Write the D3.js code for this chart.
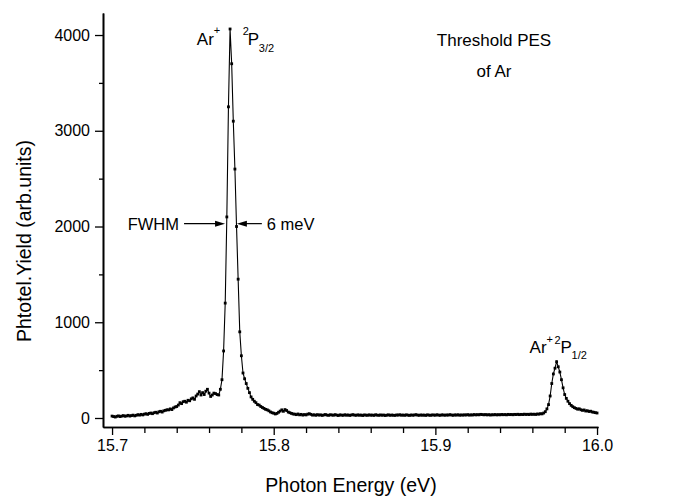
<!DOCTYPE html>
<html>
<head>
<meta charset="utf-8">
<script src="https://cdn.jsdelivr.net/npm/d3@7"></script>
<style>
  html, body { margin: 0; padding: 0; background: #fff; }
  svg { display: block; }
  text { font-family: "Liberation Sans", Arial, Helvetica, sans-serif; fill: #000; }
</style>
</head>
<body>
<svg id="chart" width="690" height="500"></svg>
<script>
// ---- data ----
const energyStart = 15.700;   // eV, first scan point
const energyStep = 0.001;     // eV, scan step
const photoelectronYield = [
  20,15,10,18,22,15,20,25,18,22,
  28,20,25,30,22,28,35,30,38,32,
  40,45,38,48,52,45,55,60,52,65,
  70,62,75,80,86,85,95,88,105,115,
  120,135,160,150,170,175,165,185,180,200,
  210,195,230,250,275,240,265,245,280,300,
  260,225,240,260,255,245,240,300,400,700,
  1200,2100,3250,4063,3700,3100,2600,2000,1450,900,
  650,470,410,360,310,265,220,195,175,160,
  140,135,120,110,100,90,85,75,63,55,
  50,42,48,60,72,85,70,88,78,62,
  55,48,42,40,35,42,33,38,30,36,
  32,40,45,38,30,34,28,35,30,33,
  27,32,36,30,28,34,31,29,35,30,
  26,33,30,28,34,29,32,27,31,35,
  30,28,33,29,31,26,32,30,28,33,
  29,31,27,34,30,28,32,29,31,26,
  30,33,28,31,29,27,32,30,34,29,
  31,28,33,30,27,32,29,31,35,30,
  28,32,29,31,27,33,30,28,32,31,
  29,34,30,28,33,31,29,32,30,35,
  31,28,33,30,34,29,32,30,33,31,
  35,30,33,31,36,32,35,33,38,36,
  33,36,32,35,31,34,33,36,32,35,
  33,37,34,36,33,38,35,37,34,38,
  36,39,35,38,36,40,37,39,36,41,
  38,40,37,42,40,45,43,52,66,95,
  140,230,360,460,520,588,535,480,400,315,
  245,205,175,150,132,118,108,100,92,96,
  86,80,84,73,76,68,71,63,60,56,52
];
const xMajorTicks = [15.7, 15.8, 15.9, 16.0];
const xMinorTicks = [15.72, 15.74, 15.76, 15.78, 15.82, 15.84, 15.86, 15.88, 15.92, 15.94, 15.96, 15.98];
const yMajorTicks = [0, 1000, 2000, 3000, 4000];
const yMinorTicks = [500, 1500, 2500, 3500];
const xTitle = "Photon Energy (eV)";
const yTitle = "Phtotel.Yield (arb.units)";
const titleLines = ["Threshold PES", "of Ar"];
const peak1 = { energy: 15.7735, value: 4063 };
const peak2 = { energy: 15.975, value: 588 };
const fwhm = { left: 15.7699, right: 15.7772, level: 2030, leftLabel: "FWHM", rightLabel: "6 meV" };

// ---- build points ----
const points = photoelectronYield.map((v, i) => ({ e: energyStart + i * energyStep, v }));

const svg = d3.select("#chart");
const x = d3.scaleLinear().domain([15.6944, 16.0006]).range([103, 598]);
const y = d3.scaleLinear().domain([-94, 4230]).range([427, 13]);

// axes
const xAxisMajor = d3.axisBottom(x).tickValues(xMajorTicks).tickFormat(d3.format(".1f")).tickSizeInner(8).tickSizeOuter(0).tickPadding(5);
const xAxisMinor = d3.axisBottom(x).tickValues(xMinorTicks).tickFormat("").tickSizeInner(6).tickSizeOuter(0);
const yAxisMajor = d3.axisLeft(y).tickValues(yMajorTicks).tickFormat(d3.format("d")).tickSizeInner(8).tickSizeOuter(0).tickPadding(5);
const yAxisMinor = d3.axisLeft(y).tickValues(yMinorTicks).tickFormat("").tickSizeInner(4).tickSizeOuter(0);

function styleAxis(g) {
  g.selectAll("path.domain").attr("stroke", "#000").attr("stroke-width", 1.6);
  g.selectAll(".tick line").attr("stroke", "#000").attr("stroke-width", 1.3);
  g.selectAll(".tick text").style("font-family", '"Liberation Sans", Arial, sans-serif').style("font-size", "16px").attr("fill", "#000");
}

svg.append("g").attr("transform", "translate(0,427)").call(xAxisMinor).call(styleAxis);
svg.append("g").attr("transform", "translate(0,427)").call(xAxisMajor).call(styleAxis);
svg.append("g").attr("transform", "translate(103,0)").call(yAxisMinor).call(styleAxis);
svg.append("g").attr("transform", "translate(103,0)").call(yAxisMajor).call(styleAxis);

// axis titles
svg.append("text").attr("x", 351).attr("y", 492).attr("text-anchor", "middle")
  .style("font-size", "19.5px").text(xTitle);
svg.append("text").attr("transform", "translate(31,241) rotate(-90)").attr("text-anchor", "middle")
  .style("font-size", "19.5px").text(yTitle);

// data line + markers
const line = d3.line().x(d => x(d.e)).y(d => y(d.v));
svg.append("path").datum(points).attr("d", line).attr("fill", "none").attr("stroke", "#000").attr("stroke-width", 1.1);
svg.append("g").selectAll("rect").data(points).join("rect")
  .attr("x", d => x(d.e) - 1.4).attr("y", d => y(d.v) - 1.4)
  .attr("width", 2.8).attr("height", 2.8).attr("fill", "#000");

// title block
titleLines.forEach((t, i) => {
  svg.append("text").attr("x", 494).attr("y", 46 + i * 31).attr("text-anchor", "middle")
    .style("font-size", "17px").text(t);
});

// peak labels
function label(px, py, parts) {
  parts.forEach(p => {
    svg.append("text").attr("x", px + p.dx).attr("y", py + p.dy).style("font-size", p.size + "px").text(p.t);
  });
}
const p1x = x(peak1.energy), p1y = y(peak1.value);
label(p1x, p1y, [
  { t: "Ar", dx: -34, dy: 16, size: 17 },
  { t: "+", dx: -17, dy: 5, size: 11 },
  { t: "2", dx: 12, dy: 6, size: 11 },
  { t: "P", dx: 17, dy: 16, size: 17 },
  { t: "3/2", dx: 28, dy: 23, size: 11 }
]);
const p2x = x(peak2.energy), p2y = y(peak2.value);
label(p2x, p2y, [
  { t: "Ar", dx: -27, dy: -9, size: 17 },
  { t: "+", dx: -10, dy: -19, size: 11 },
  { t: "2", dx: -2, dy: -18, size: 11 },
  { t: "P", dx: 4, dy: -9, size: 17 },
  { t: "1/2", dx: 15, dy: -3, size: 11 }
]);

// FWHM arrows
const fl = x(fwhm.left), fr = x(fwhm.right), fy = y(fwhm.level);
function arrow(x0, x1, yy) {
  const dir = Math.sign(x1 - x0);
  svg.append("line").attr("x1", x0).attr("y1", yy).attr("x2", x1 - dir * 8).attr("y2", yy)
    .attr("stroke", "#000").attr("stroke-width", 1.2);
  svg.append("path").attr("d", `M${x1},${yy} L${x1 - dir * 10},${yy - 3} L${x1 - dir * 10},${yy + 3} Z`).attr("fill", "#000");
}
arrow(fl - 41, fl, fy);
arrow(fr + 25, fr, fy);
svg.append("text").attr("x", fl - 46).attr("y", fy + 6).attr("text-anchor", "end").style("font-size", "16.5px").text(fwhm.leftLabel);
svg.append("text").attr("x", fr + 30).attr("y", fy + 6).style("font-size", "16.5px").text(fwhm.rightLabel);
</script>
</body>
</html>
